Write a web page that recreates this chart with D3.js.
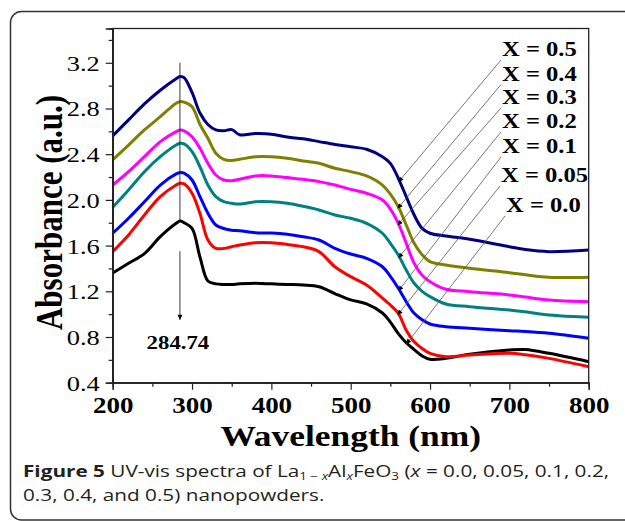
<!DOCTYPE html>
<html>
<head>
<meta charset="utf-8">
<script src="https://cdn.jsdelivr.net/npm/d3@7"></script>
<style>
  body { margin: 0; background: #fff; }
  svg { display: block; }
</style>
</head>
<body>
<svg id="chart" width="625" height="521"></svg>
<script>
const width = 625;
const height = 521;
const stretch = 1.2; // source figure is squeezed wider than tall
const serif = '"Liberation Serif", "Times New Roman", serif';

// wavelength grid (nm)
const wavelengths = [200, 220, 240, 260, 280, 285, 290, 300, 310, 320, 330, 340, 350, 360, 380, 400,
  420, 440, 460, 480, 500, 520, 540, 550, 560, 570, 580, 590, 600, 620, 650, 700, 720, 750, 800];

const x00 = [1.36, 1.445, 1.53, 1.678, 1.795, 1.815, 1.80, 1.75, 1.50, 1.29, 1.265, 1.26, 1.26, 1.265, 1.27, 1.265,
  1.26, 1.255, 1.24, 1.18, 1.125, 1.09, 1.01, 0.93, 0.83, 0.75, 0.69, 0.635, 0.605, 0.613, 0.65, 0.686, 0.69, 0.657, 0.584];
const x005 = [1.547, 1.693, 1.868, 2.028, 2.13, 2.145, 2.14, 2.058, 1.88, 1.65, 1.576, 1.575, 1.59, 1.605, 1.625, 1.625,
  1.61, 1.59, 1.547, 1.415, 1.328, 1.255, 1.14, 1.08, 1.007, 0.86, 0.759, 0.70, 0.657, 0.628, 0.642, 0.657, 0.645, 0.613, 0.54];
const x01 = [1.708, 1.839, 1.984, 2.13, 2.227, 2.24, 2.235, 2.174, 2.028, 1.883, 1.78, 1.75, 1.735, 1.73, 1.712, 1.71,
  1.70, 1.678, 1.649, 1.576, 1.526, 1.489, 1.415, 1.33, 1.226, 1.109, 1.007, 0.95, 0.914, 0.89, 0.876, 0.855, 0.848, 0.832, 0.789];
const x02 = [1.935, 2.087, 2.247, 2.378, 2.48, 2.495, 2.49, 2.422, 2.29, 2.13, 2.028, 1.984, 1.97, 1.964, 1.984, 1.984,
  1.97, 1.944, 1.912, 1.868, 1.839, 1.795, 1.708, 1.62, 1.518, 1.386, 1.27, 1.20, 1.153, 1.089, 1.065, 1.036, 1.02, 0.993, 0.972];
const x03 = [2.13, 2.247, 2.378, 2.51, 2.597, 2.612, 2.605, 2.553, 2.452, 2.32, 2.218, 2.174, 2.168, 2.18, 2.21, 2.21,
  2.195, 2.18, 2.16, 2.13, 2.092, 2.058, 1.999, 1.92, 1.795, 1.62, 1.445, 1.34, 1.284, 1.218, 1.197, 1.168, 1.15, 1.124, 1.109];
const x04 = [2.35, 2.48, 2.612, 2.728, 2.846, 2.86, 2.855, 2.816, 2.66, 2.539, 2.408, 2.355, 2.345, 2.355, 2.378, 2.378,
  2.364, 2.34, 2.32, 2.277, 2.247, 2.21, 2.13, 2.05, 1.94, 1.78, 1.62, 1.52, 1.459, 1.43, 1.401, 1.363, 1.345, 1.323, 1.323];
const x05 = [2.56, 2.70, 2.84, 2.96, 3.06, 3.08, 3.07, 2.94, 2.76, 2.66, 2.612, 2.605, 2.615, 2.57, 2.58, 2.575,
  2.55, 2.535, 2.51, 2.485, 2.465, 2.443, 2.378, 2.32, 2.189, 2.028, 1.868, 1.751, 1.708, 1.684, 1.655, 1.59, 1.565, 1.547, 1.561];

const seriesNames = ["X = 0.0", "X = 0.05", "X = 0.1", "X = 0.2", "X = 0.3", "X = 0.4", "X = 0.5"];
const seriesValues = [x00, x005, x01, x02, x03, x04, x05];
const seriesColors = ["#000000", "#ff0000", "#0000ff", "#008080", "#ff00ff", "#808000", "#000080"];
// wavelength where each label's pointer touches its curve
const pointerNm = [572, 561, 562, 562, 561, 561, 562];

const xTicks = [200, 300, 400, 500, 600, 700, 800];
const xMinor = [250, 350, 450, 550, 650, 750];
const yTicks = [0.4, 0.8, 1.2, 1.6, 2.0, 2.4, 2.8, 3.2];
const yMinor = [0.6, 1.0, 1.4, 1.8, 2.2, 2.6, 3.0, 3.4];

const peakNm = 284.74;
const peakLabel = "284.74";

// layout of the label column (pixels)
const labelX = [506, 501, 502, 502, 502, 502, 502];
const labelY = [212, 182, 153, 128, 104, 80.5, 56];

const margin = {top: 28.5, right: 36.3, bottom: 138.3, left: 112.7};

const svg = d3.select("#chart");

svg.append("rect")
  .attr("x", 10.5).attr("y", 11.5)
  .attr("width", 700).attr("height", 508.5)
  .attr("rx", 11)
  .attr("fill", "none")
  .attr("stroke", "#333")
  .attr("stroke-width", 1.5);

const x = d3.scaleLinear().domain([200, 800]).range([margin.left, width - margin.right]);
const y = d3.scaleLinear().domain([0.4, 3.5]).range([height - margin.bottom, margin.top]);

const defs = svg.append("defs");
defs.append("marker")
  .attr("id", "tip")
  .attr("viewBox", "0 0 10 10")
  .attr("refX", 10).attr("refY", 5)
  .attr("markerUnits", "userSpaceOnUse")
  .attr("markerWidth", 7).attr("markerHeight", 5)
  .attr("orient", "auto")
  .append("path").attr("d", "M0,0L10,5L0,10z").attr("fill", "#000");

// curves
const line = d3.line()
  .x((d, i) => x(wavelengths[i]))
  .y(d => y(d))
  .curve(d3.curveCatmullRom.alpha(0.5));

svg.append("g")
  .selectAll("path")
  .data(seriesValues)
  .join("path")
  .attr("d", line)
  .attr("fill", "none")
  .attr("stroke", (d, i) => seriesColors[i])
  .attr("stroke-width", 3)
  .attr("stroke-linejoin", "round");

// frame
svg.append("rect")
  .attr("x", x.range()[0]).attr("y", y.range()[1])
  .attr("width", x.range()[1] - x.range()[0])
  .attr("height", y.range()[0] - y.range()[1])
  .attr("fill", "none")
  .attr("stroke", "#222")
  .attr("stroke-width", 1.3);

// axes
const xAxis = svg.append("g")
  .attr("transform", `translate(0,${y.range()[0]})`)
  .call(d3.axisBottom(x).tickValues(xTicks).tickSize(7).tickFormat(d3.format("d")));
svg.append("g")
  .attr("transform", `translate(0,${y.range()[0]})`)
  .call(d3.axisBottom(x).tickValues(xMinor).tickSize(4).tickFormat(""));
const yAxis = svg.append("g")
  .attr("transform", `translate(${x.range()[0]},0)`)
  .call(d3.axisLeft(y).tickValues(yTicks).tickSize(7).tickFormat(d3.format(".1f")));
svg.append("g")
  .attr("transform", `translate(${x.range()[0]},0)`)
  .call(d3.axisLeft(y).tickValues(yMinor).tickSize(4).tickFormat(""));

svg.selectAll(".domain").attr("stroke", "#222").attr("stroke-width", 1.3);
svg.selectAll(".tick line").attr("stroke", "#222").attr("stroke-width", 1.2);

xAxis.selectAll("text")
  .attr("x", 0).attr("y", 0).attr("dy", 0)
  .attr("transform", `translate(0,30.5) scale(${stretch},1)`)
  .attr("font-family", serif).attr("font-size", 22.5).attr("font-weight", "bold")
  .attr("fill", "#000");
yAxis.selectAll("text")
  .attr("x", 0).attr("y", 0).attr("dy", 0)
  .attr("text-anchor", "end")
  .attr("transform", `translate(-13,7.5) scale(${stretch},1)`)
  .attr("font-family", serif).attr("font-size", 22).attr("font-weight", "normal")
  .attr("fill", "#000");

// axis titles
svg.append("text")
  .attr("transform", `translate(${(x.range()[0] + x.range()[1]) / 2},446) scale(${stretch},1)`)
  .attr("text-anchor", "middle")
  .attr("font-family", serif).attr("font-size", 29.5).attr("font-weight", "bold")
  .text("Wavelength (nm)");
svg.append("text")
  .attr("transform", `translate(62,212.5) scale(${stretch},1) rotate(-90)`)
  .attr("text-anchor", "middle")
  .attr("font-family", serif).attr("font-size", 31).attr("font-weight", "bold")
  .text("Absorbance (a.u.)");

// peak marker
const blackPeak = d3.max(x00);
svg.append("line")
  .attr("x1", x(peakNm)).attr("x2", x(peakNm))
  .attr("y1", y(3.2)).attr("y2", y(blackPeak))
  .attr("stroke", "#222").attr("stroke-width", 0.9);
svg.append("line")
  .attr("x1", x(peakNm)).attr("x2", x(peakNm))
  .attr("y1", y(1.55)).attr("y2", y(0.95))
  .attr("stroke", "#222").attr("stroke-width", 0.9)
  .attr("marker-end", "url(#tip)");
svg.append("text")
  .attr("transform", `translate(${x(peakNm) - 2},348.5) scale(${stretch},1)`)
  .attr("text-anchor", "middle")
  .attr("font-family", serif).attr("font-size", 19).attr("font-weight", "bold")
  .text(peakLabel);

// labels with pointers
function valueAt(vals, nm) {
  const i = d3.bisectRight(wavelengths, nm) - 1;
  const t = (nm - wavelengths[i]) / (wavelengths[i + 1] - wavelengths[i]);
  return vals[i] + t * (vals[i + 1] - vals[i]);
}

const labels = svg.append("g");
seriesNames.forEach((name, i) => {
  labels.append("line")
    .attr("x1", labelX[i] - 1).attr("y1", labelY[i] + 4)
    .attr("x2", x(pointerNm[i]) - 1.5).attr("y2", y(valueAt(seriesValues[i], pointerNm[i])))
    .attr("stroke", "#555").attr("stroke-width", 0.8)
    .attr("marker-end", "url(#tip)");
  labels.append("text")
    .attr("transform", `translate(${labelX[i]},${labelY[i]}) scale(${stretch},1)`)
    .attr("font-family", serif).attr("font-size", 20.5).attr("font-weight", "bold")
    .text(name);
});

// caption (source typeface is wider than Open Sans, so stretch it too)
const cap = svg.append("text")
  .attr("transform", "translate(23,0) scale(1.28,1)")
  .attr("font-family", '"Open Sans", "Noto Sans", sans-serif')
  .attr("font-size", 16.2)
  .attr("fill", "#231f20");
const l1 = cap.append("tspan").attr("x", 0).attr("y", 477);
l1.append("tspan").attr("font-weight", "bold").text("Figure 5");
l1.append("tspan").text(" UV-vis spectra of La");
l1.append("tspan").attr("dy", 3).attr("font-size", 10.5).text("1 − ");
l1.append("tspan").attr("font-size", 10.5).attr("font-style", "italic").text("x");
l1.append("tspan").attr("dy", -3).text("Al");
l1.append("tspan").attr("dy", 3).attr("font-size", 10.5).attr("font-style", "italic").text("x");
l1.append("tspan").attr("dy", -3).text("FeO");
l1.append("tspan").attr("dy", 3).attr("font-size", 10.5).text("3");
l1.append("tspan").attr("dy", -3).text(" (");
l1.append("tspan").attr("font-style", "italic").text("x");
l1.append("tspan").text(" = 0.0, 0.05, 0.1, 0.2,");
cap.append("tspan").attr("x", 0).attr("y", 501).text("0.3, 0.4, and 0.5) nanopowders.");
</script>
</body>
</html>
